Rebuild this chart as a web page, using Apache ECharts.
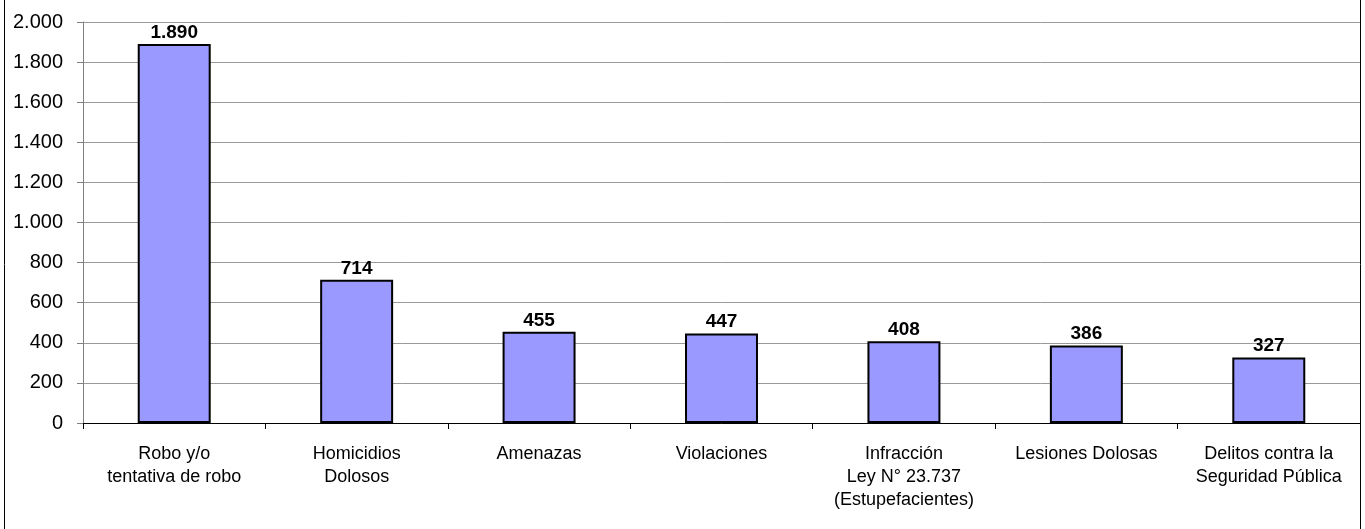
<!DOCTYPE html>
<html>
<head>
<meta charset="utf-8">
<script src="https://cdn.jsdelivr.net/npm/echarts@6/dist/echarts.min.js"></script>
<style>
html,body{margin:0;padding:0;background:#fff;}
#chart{width:1365px;height:529px;}
</style>
</head>
<body>
<div id="chart"></div>
<script>
var categories = [
  "Robo y/o\ntentativa de robo",
  "Homicidios\nDolosos",
  "Amenazas",
  "Violaciones",
  "Infracción\nLey N° 23.737\n(Estupefacientes)",
  "Lesiones Dolosas",
  "Delitos contra la\nSeguridad Pública"
];
var values = [1890, 714, 455, 447, 408, 386, 327];

function fmt(v) {
  return String(v).replace(/\B(?=(\d{3})+(?!\d))/g, ".");
}

var chart = echarts.init(document.getElementById('chart'), null, {renderer: 'canvas'});
chart.setOption({
  animation: false,
  backgroundColor: '#ffffff',
  textStyle: {fontFamily: '"Liberation Sans", Arial, sans-serif'},
  grid: {left: 83, top: 22, right: 5, bottom: 106, containLabel: false},
  xAxis: {
    type: 'category',
    data: categories,
    axisLine: {show: true, lineStyle: {color: '#000000', width: 1}},
    axisTick: {show: true, alignWithLabel: false, length: 6, lineStyle: {color: '#000000'}},
    axisLabel: {
      interval: 0,
      margin: 20,
      color: '#000000',
      fontSize: 18,
      lineHeight: 23,
      fontFamily: '"Liberation Sans", Arial, sans-serif'
    }
  },
  yAxis: {
    type: 'value',
    min: 0,
    max: 2000,
    interval: 200,
    axisLine: {show: true, lineStyle: {color: '#808080', width: 1}},
    axisTick: {show: true, length: 6, lineStyle: {color: '#808080'}},
    splitLine: {show: true, lineStyle: {color: '#999999', width: 1}},
    axisLabel: {
      margin: 20,
      color: '#000000',
      fontSize: 20,
      fontFamily: '"Liberation Sans", Arial, sans-serif',
      formatter: function (v) { return fmt(v); }
    }
  },
  series: [{
    type: 'bar',
    data: values,
    barWidth: '40%',
    itemStyle: {color: '#9999ff', borderColor: '#000000', borderWidth: 2},
    label: {
      show: true,
      position: 'top',
      distance: 2,
      color: '#000000',
      fontSize: 19,
      fontWeight: 'bold',
      fontFamily: '"Liberation Sans", Arial, sans-serif',
      formatter: function (p) { return fmt(p.value); }
    }
  }],
  graphic: [{
    type: 'rect',
    shape: {x: 4.5, y: -2, width: 1356, height: 533},
    style: {fill: 'none', stroke: '#000000', lineWidth: 1},
    silent: true
  }]
});
</script>
</body>
</html>
